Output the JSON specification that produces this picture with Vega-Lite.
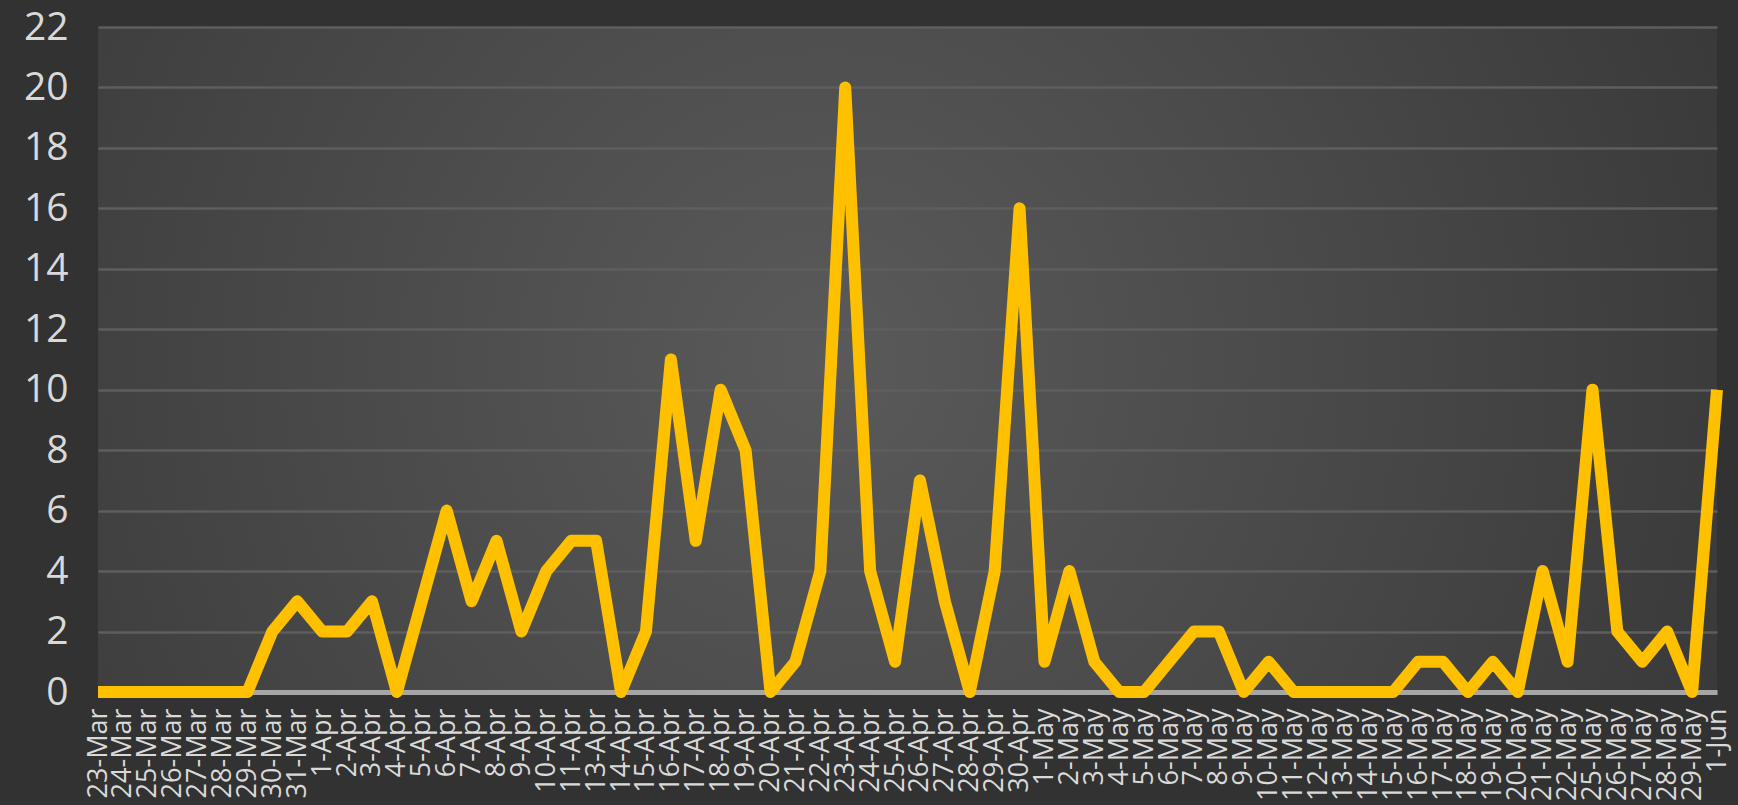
{
  "$schema": "https://vega.github.io/schema/vega-lite/v6.json",
  "width": 1619,
  "height": 665,
  "autosize": "none",
  "padding": {"left": 98, "top": 27, "right": 21, "bottom": 113},
  "background": "#323232",
  "config": {
    "view": {
      "stroke": null,
      "fill": {
        "gradient": "radial",
        "x1": 0.45, "y1": 0.5, "r1": 0,
        "x2": 0.45, "y2": 0.5, "r2": 0.8,
        "stops": [
          {"offset": 0, "color": "#5a5a5a"},
          {"offset": 1, "color": "#2e2e2e"}
        ]
      }
    }
  },
  "data": {
    "values": [
      {"date": "23-Mar", "count": 0},
      {"date": "24-Mar", "count": 0},
      {"date": "25-Mar", "count": 0},
      {"date": "26-Mar", "count": 0},
      {"date": "27-Mar", "count": 0},
      {"date": "28-Mar", "count": 0},
      {"date": "29-Mar", "count": 0},
      {"date": "30-Mar", "count": 2},
      {"date": "31-Mar", "count": 3},
      {"date": "1-Apr", "count": 2},
      {"date": "2-Apr", "count": 2},
      {"date": "3-Apr", "count": 3},
      {"date": "4-Apr", "count": 0},
      {"date": "5-Apr", "count": 3},
      {"date": "6-Apr", "count": 6},
      {"date": "7-Apr", "count": 3},
      {"date": "8-Apr", "count": 5},
      {"date": "9-Apr", "count": 2},
      {"date": "10-Apr", "count": 4},
      {"date": "11-Apr", "count": 5},
      {"date": "13-Apr", "count": 5},
      {"date": "14-Apr", "count": 0},
      {"date": "15-Apr", "count": 2},
      {"date": "16-Apr", "count": 11},
      {"date": "17-Apr", "count": 5},
      {"date": "18-Apr", "count": 10},
      {"date": "19-Apr", "count": 8},
      {"date": "20-Apr", "count": 0},
      {"date": "21-Apr", "count": 1},
      {"date": "22-Apr", "count": 4},
      {"date": "23-Apr", "count": 20},
      {"date": "24-Apr", "count": 4},
      {"date": "25-Apr", "count": 1},
      {"date": "26-Apr", "count": 7},
      {"date": "27-Apr", "count": 3},
      {"date": "28-Apr", "count": 0},
      {"date": "29-Apr", "count": 4},
      {"date": "30-Apr", "count": 16},
      {"date": "1-May", "count": 1},
      {"date": "2-May", "count": 4},
      {"date": "3-May", "count": 1},
      {"date": "4-May", "count": 0},
      {"date": "5-May", "count": 0},
      {"date": "6-May", "count": 1},
      {"date": "7-May", "count": 2},
      {"date": "8-May", "count": 2},
      {"date": "9-May", "count": 0},
      {"date": "10-May", "count": 1},
      {"date": "11-May", "count": 0},
      {"date": "12-May", "count": 0},
      {"date": "13-May", "count": 0},
      {"date": "14-May", "count": 0},
      {"date": "15-May", "count": 0},
      {"date": "16-May", "count": 1},
      {"date": "17-May", "count": 1},
      {"date": "18-May", "count": 0},
      {"date": "19-May", "count": 1},
      {"date": "20-May", "count": 0},
      {"date": "21-May", "count": 4},
      {"date": "22-May", "count": 1},
      {"date": "25-May", "count": 10},
      {"date": "26-May", "count": 2},
      {"date": "27-May", "count": 1},
      {"date": "28-May", "count": 2},
      {"date": "29-May", "count": 0},
      {"date": "1-Jun", "count": 10}
    ]
  },
  "mark": {"type": "line", "color": "#FFC000", "strokeWidth": 12, "strokeJoin": "round"},
  "encoding": {
    "x": {
      "field": "date",
      "type": "ordinal",
      "sort": null,
      "scale": {"type": "point", "padding": 0},
      "axis": {
        "title": null,
        "labelAngle": -90,
        "labelAlign": "right",
        "labelBaseline": "middle",
        "labelFont": "Open Sans",
        "labelFontSize": 27,
        "labelColor": "#d9d9d9",
        "labelPadding": 16,
        "labelOverlap": false,
        "ticks": false,
        "grid": false,
        "domainColor": "#a6a6a6",
        "domainWidth": 5
      }
    },
    "y": {
      "field": "count",
      "type": "quantitative",
      "scale": {"domain": [0, 22], "nice": false},
      "axis": {
        "title": null,
        "values": [0, 2, 4, 6, 8, 10, 12, 14, 16, 18, 20, 22],
        "grid": true,
        "gridColor": "#5e5e5e",
        "gridWidth": 2.5,
        "domain": false,
        "ticks": false,
        "labelPadding": 30,
        "labelFont": "Open Sans",
        "labelFontSize": 39,
        "labelColor": "#d9d9d9"
      }
    }
  }
}
